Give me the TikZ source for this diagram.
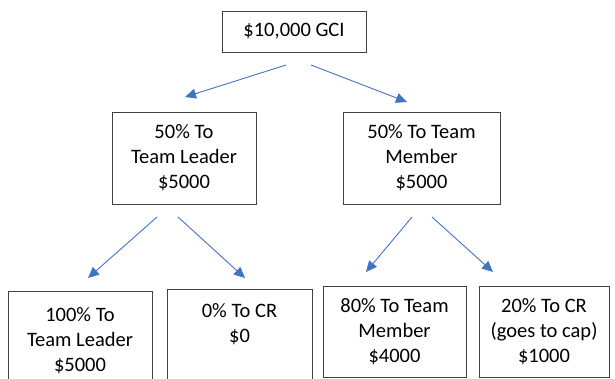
\documentclass[tikz,border=0pt]{standalone}
\usepackage{fontspec}
\setmainfont{Carlito}
\usetikzlibrary{arrows.meta}
\definecolor{arrowblue}{HTML}{4472C4}
\definecolor{boxgray}{HTML}{404040}
\begin{document}
\begin{tikzpicture}[x=1pt,y=-1pt,
  box/.style={draw=boxgray, line width=0.9pt, rectangle, inner sep=0pt, align=center,
    font=\fontsize{20.5}{25}\selectfont, text=black},
  flow/.style={draw=arrowblue, line width=0.9pt, -{Triangle[length=11pt,width=10pt]}}]
\useasboundingbox (0,0) rectangle (615,378);
\clip (0,0) rectangle (615,378);
\node[box, minimum width=144, minimum height=41] (gci) at (294,31.5) {\$10,000 GCI};
\node[box, minimum width=144, minimum height=92] (tl) at (184,158) {50\% To\\Team Leader\\\$5000};
\node[box, minimum width=157, minimum height=92] (tm) at (421.5,158) {50\% To Team\\Member\\\$5000};
\node[box, minimum width=144, minimum height=100] (tl2) at (80,341) {100\% To\\Team Leader\\\$5000};
\node[box, minimum width=145, minimum height=100] (cr0) at (239.5,339) {0\% To CR\\\$0\\\strut};
\node[box, minimum width=143, minimum height=91] (tm2) at (394.5,331.5) {80\% To Team\\Member\\\$4000};
\node[box, minimum width=130, minimum height=91] (cr1) at (544,331.5) {20\% To CR\\(goes to cap)\\\$1000};
\coordinate (a1s) at (286,65);  \coordinate (a1e) at (185,97);
\coordinate (a2s) at (311,65);  \coordinate (a2e) at (407,102);
\coordinate (a3s) at (157,217); \coordinate (a3e) at (88,278);
\coordinate (a4s) at (178,217); \coordinate (a4e) at (245,278);
\coordinate (a5s) at (412,217); \coordinate (a5e) at (366,272);
\coordinate (a6s) at (432,217); \coordinate (a6e) at (493,272);
\draw[flow] (a1s) -- (a1e);
\draw[flow] (a2s) -- (a2e);
\draw[flow] (a3s) -- (a3e);
\draw[flow] (a4s) -- (a4e);
\draw[flow] (a5s) -- (a5e);
\draw[flow] (a6s) -- (a6e);
\end{tikzpicture}
\end{document}
